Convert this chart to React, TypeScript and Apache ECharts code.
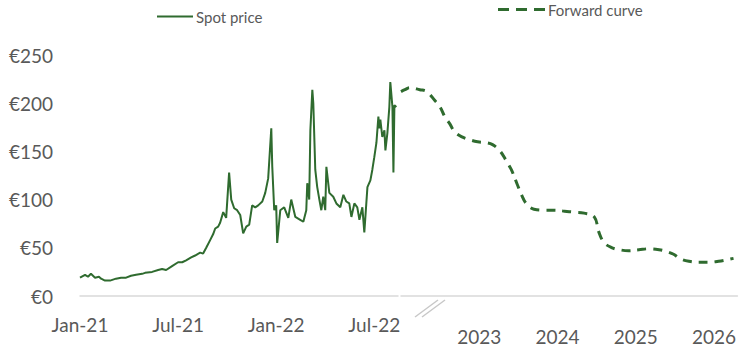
import React, { useEffect, useRef } from "react";
import * as echarts from "echarts";

// Spot price: x = months since Jan-21 (0 = Jan-21, 6 = Jul-21, ...), y = €/MWh
const spotMonths = [
  0, 0.31, 0.49, 0.67, 0.92, 1.16, 1.29, 1.53, 1.84, 2.2, 2.51, 2.82, 3.12, 3.43, 3.8, 3.98,
  4.41, 4.78, 5.02, 5.27, 5.63, 6.0, 6.25, 6.49, 6.8, 7.04, 7.35, 7.53, 7.72, 7.96, 8.14,
  8.27, 8.45, 8.57, 8.76, 8.94, 9.12, 9.25, 9.43, 9.61, 9.8, 9.98, 10.17, 10.35, 10.53,
  10.72, 10.9, 11.15, 11.33, 11.51, 11.7, 11.76, 11.88, 12.0, 12.06, 12.25, 12.49, 12.74,
  12.92, 13.17, 13.47, 13.66, 13.84, 13.9, 14.02, 14.09, 14.21, 14.27, 14.39, 14.51, 14.64,
  14.76, 14.88, 15.0, 15.07, 15.25, 15.49, 15.68, 15.92, 16.11, 16.29, 16.47, 16.6, 16.78,
  16.96, 17.09, 17.27, 17.39, 17.58, 17.76, 17.88, 18.0, 18.13, 18.25, 18.31, 18.37, 18.49,
  18.62, 18.68, 18.8, 18.92, 18.98, 19.11, 19.17, 19.23, 19.35,
];
const spotValues = [
  19, 22, 20, 23, 19, 20, 18, 16, 16, 18, 19, 19, 21, 22, 23, 24,
  25, 27, 28, 27, 31, 35, 35, 37, 40, 42, 45, 44, 50, 58, 64,
  70, 72, 76, 87, 81, 128, 100, 91, 89, 84, 65, 72, 74, 94,
  92, 94, 98, 107, 122, 174, 134, 89, 94, 55, 89, 92, 81,
  100, 82, 79, 77, 89, 117, 100, 172, 214, 200, 131, 113, 100,
  89, 103, 89, 134, 107, 103, 96, 92, 105, 98, 96, 82, 96,
  92, 79, 92, 66, 113, 120, 131, 144, 159, 186, 174, 183, 165,
  172, 151, 169, 196, 222, 196, 128, 198, 196,
];

// Forward curve: x in axis units where each label (2023..2026) sits on its integer
const forwardX = [
  2022.0, 2022.05, 2022.11, 2022.24, 2022.33, 2022.43, 2022.5, 2022.56, 2022.62, 2022.69,
  2022.78, 2022.88, 2022.98, 2023.09, 2023.17, 2023.26, 2023.34, 2023.41, 2023.48, 2023.54,
  2023.6, 2023.7, 2023.83, 2023.96, 2024.09, 2024.21, 2024.34, 2024.47, 2024.53, 2024.6,
  2024.7, 2024.79, 2024.91, 2025.04, 2025.17, 2025.3, 2025.4, 2025.49, 2025.56, 2025.68,
  2025.8, 2025.93, 2026.06, 2026.19, 2026.25,
];
const forwardValues = [
  212, 214, 216, 214, 212, 203, 196, 186, 179, 170,
  165, 162, 160, 159, 157, 151, 141, 131, 117, 105,
  96, 90, 89, 89, 88, 87, 86, 82, 66, 55,
  50, 48, 47, 48, 49, 48, 46, 43, 39, 36,
  35, 35, 36, 38, 39,
];

const leftTickLabels: Record<number, string> = { 0: "Jan-21", 6: "Jul-21", 12: "Jan-22", 18: "Jul-22" };
const rightTickLabels: Record<number, string> = { 2023: "2023", 2024: "2024", 2025: "2025", 2026: "2026" };
const yTicks = { min: 0, max: 250, interval: 50 };

const GREEN = "#2f6b2f";
const GRAY_TEXT = "#595959";
const AXIS_GRAY = "#d9d9d9";
const FONT = "Lato, 'Open Sans', sans-serif";

export default function App() {
  const ref = useRef<HTMLDivElement>(null);
  useEffect(() => {
    if (!ref.current) return;
    const chart = echarts.init(ref.current, undefined, { renderer: "svg" });
    const option: any = {
      animation: false,
      backgroundColor: "#ffffff",
      textStyle: { fontFamily: FONT },
      legend: [
        {
          data: [{ name: "Spot price", icon: "path://M0,0h36v2h-36z" }],
          left: 157,
          top: 9,
          padding: 0,
          itemWidth: 36,
          itemHeight: 2,
          itemGap: 0,
          textStyle: { color: GRAY_TEXT, fontSize: 15, fontFamily: FONT, padding: [0, 0, 0, -2] },
        },
        {
          data: [
            {
              name: "Forward curve",
              icon: "path://M0,0h11v3h-11z M18,0h11v3h-11z M36,0h11v3h-11z",
            },
          ],
          left: 498,
          top: 2,
          padding: 0,
          itemWidth: 47,
          itemHeight: 3,
          itemGap: 0,
          textStyle: { color: GRAY_TEXT, fontSize: 15, fontFamily: FONT, padding: [0, 0, 0, -2] },
        },
      ],
      grid: [
        { left: 80, right: 341, top: 55, bottom: 56 },
        { left: 401, right: 0, top: 55, bottom: 56 },
      ],
      xAxis: [
        {
          type: "value",
          gridIndex: 0,
          min: 0,
          max: 19.45,
          interval: 6,
          axisLine: { show: true, lineStyle: { color: AXIS_GRAY, width: 1.5 } },
          axisTick: { show: false },
          splitLine: { show: false },
          axisLabel: {
            color: GRAY_TEXT,
            fontSize: 19,
            fontFamily: FONT,
            margin: 19,
            showMaxLabel: false,
            formatter: (v: number) => leftTickLabels[Math.round(v * 100) / 100] ?? "",
          },
        },
        {
          type: "value",
          gridIndex: 1,
          min: 2022,
          max: 2026.3,
          interval: 1,
          offset: 12,
          axisLine: { show: true, lineStyle: { color: AXIS_GRAY, width: 1.5 } },
          axisTick: { show: false },
          splitLine: { show: false },
          axisLabel: {
            color: GRAY_TEXT,
            fontSize: 19,
            fontFamily: FONT,
            margin: 19,
            showMinLabel: false,
            showMaxLabel: false,
            formatter: (v: number) => rightTickLabels[Math.round(v * 100) / 100] ?? "",
          },
        },
      ],
      yAxis: [
        {
          type: "value",
          gridIndex: 0,
          ...yTicks,
          axisLine: { show: false },
          axisTick: { show: false },
          splitLine: { show: false },
          axisLabel: {
            color: GRAY_TEXT,
            fontSize: 19,
            fontFamily: FONT,
            margin: 27,
            formatter: (v: number) => "€" + v,
          },
        },
        {
          type: "value",
          gridIndex: 1,
          ...yTicks,
          show: false,
          splitLine: { show: false },
        },
      ],
      series: [
        {
          name: "Spot price",
          type: "line",
          xAxisIndex: 0,
          yAxisIndex: 0,
          showSymbol: false,
          symbol: "none",
          data: spotMonths.map((m, i) => [m, spotValues[i]]),
          lineStyle: { color: GREEN, width: 2 },
          itemStyle: { color: GREEN },
        },
        {
          name: "Forward curve",
          type: "line",
          xAxisIndex: 1,
          yAxisIndex: 1,
          showSymbol: false,
          symbol: "none",
          smooth: 0.4,
          data: forwardX.map((x, i) => [x, forwardValues[i]]),
          lineStyle: { color: GREEN, width: 3, type: [9, 7] },
          itemStyle: { color: GREEN },
        },
      ],
      graphic: [
        {
          type: "line",
          shape: { x1: 415, y1: 317, x2: 438, y2: 300 },
          style: { stroke: "#c8c8c8", lineWidth: 1.5 },
        },
        {
          type: "line",
          shape: { x1: 422, y1: 317, x2: 445, y2: 300 },
          style: { stroke: "#c8c8c8", lineWidth: 1.5 },
        },
      ],
    };
    chart.setOption(option);
    return () => chart.dispose();
  }, []);
  return <div ref={ref} style={{ width: 739, height: 352, position: "absolute", left: 0, top: 0 }} />;
}
